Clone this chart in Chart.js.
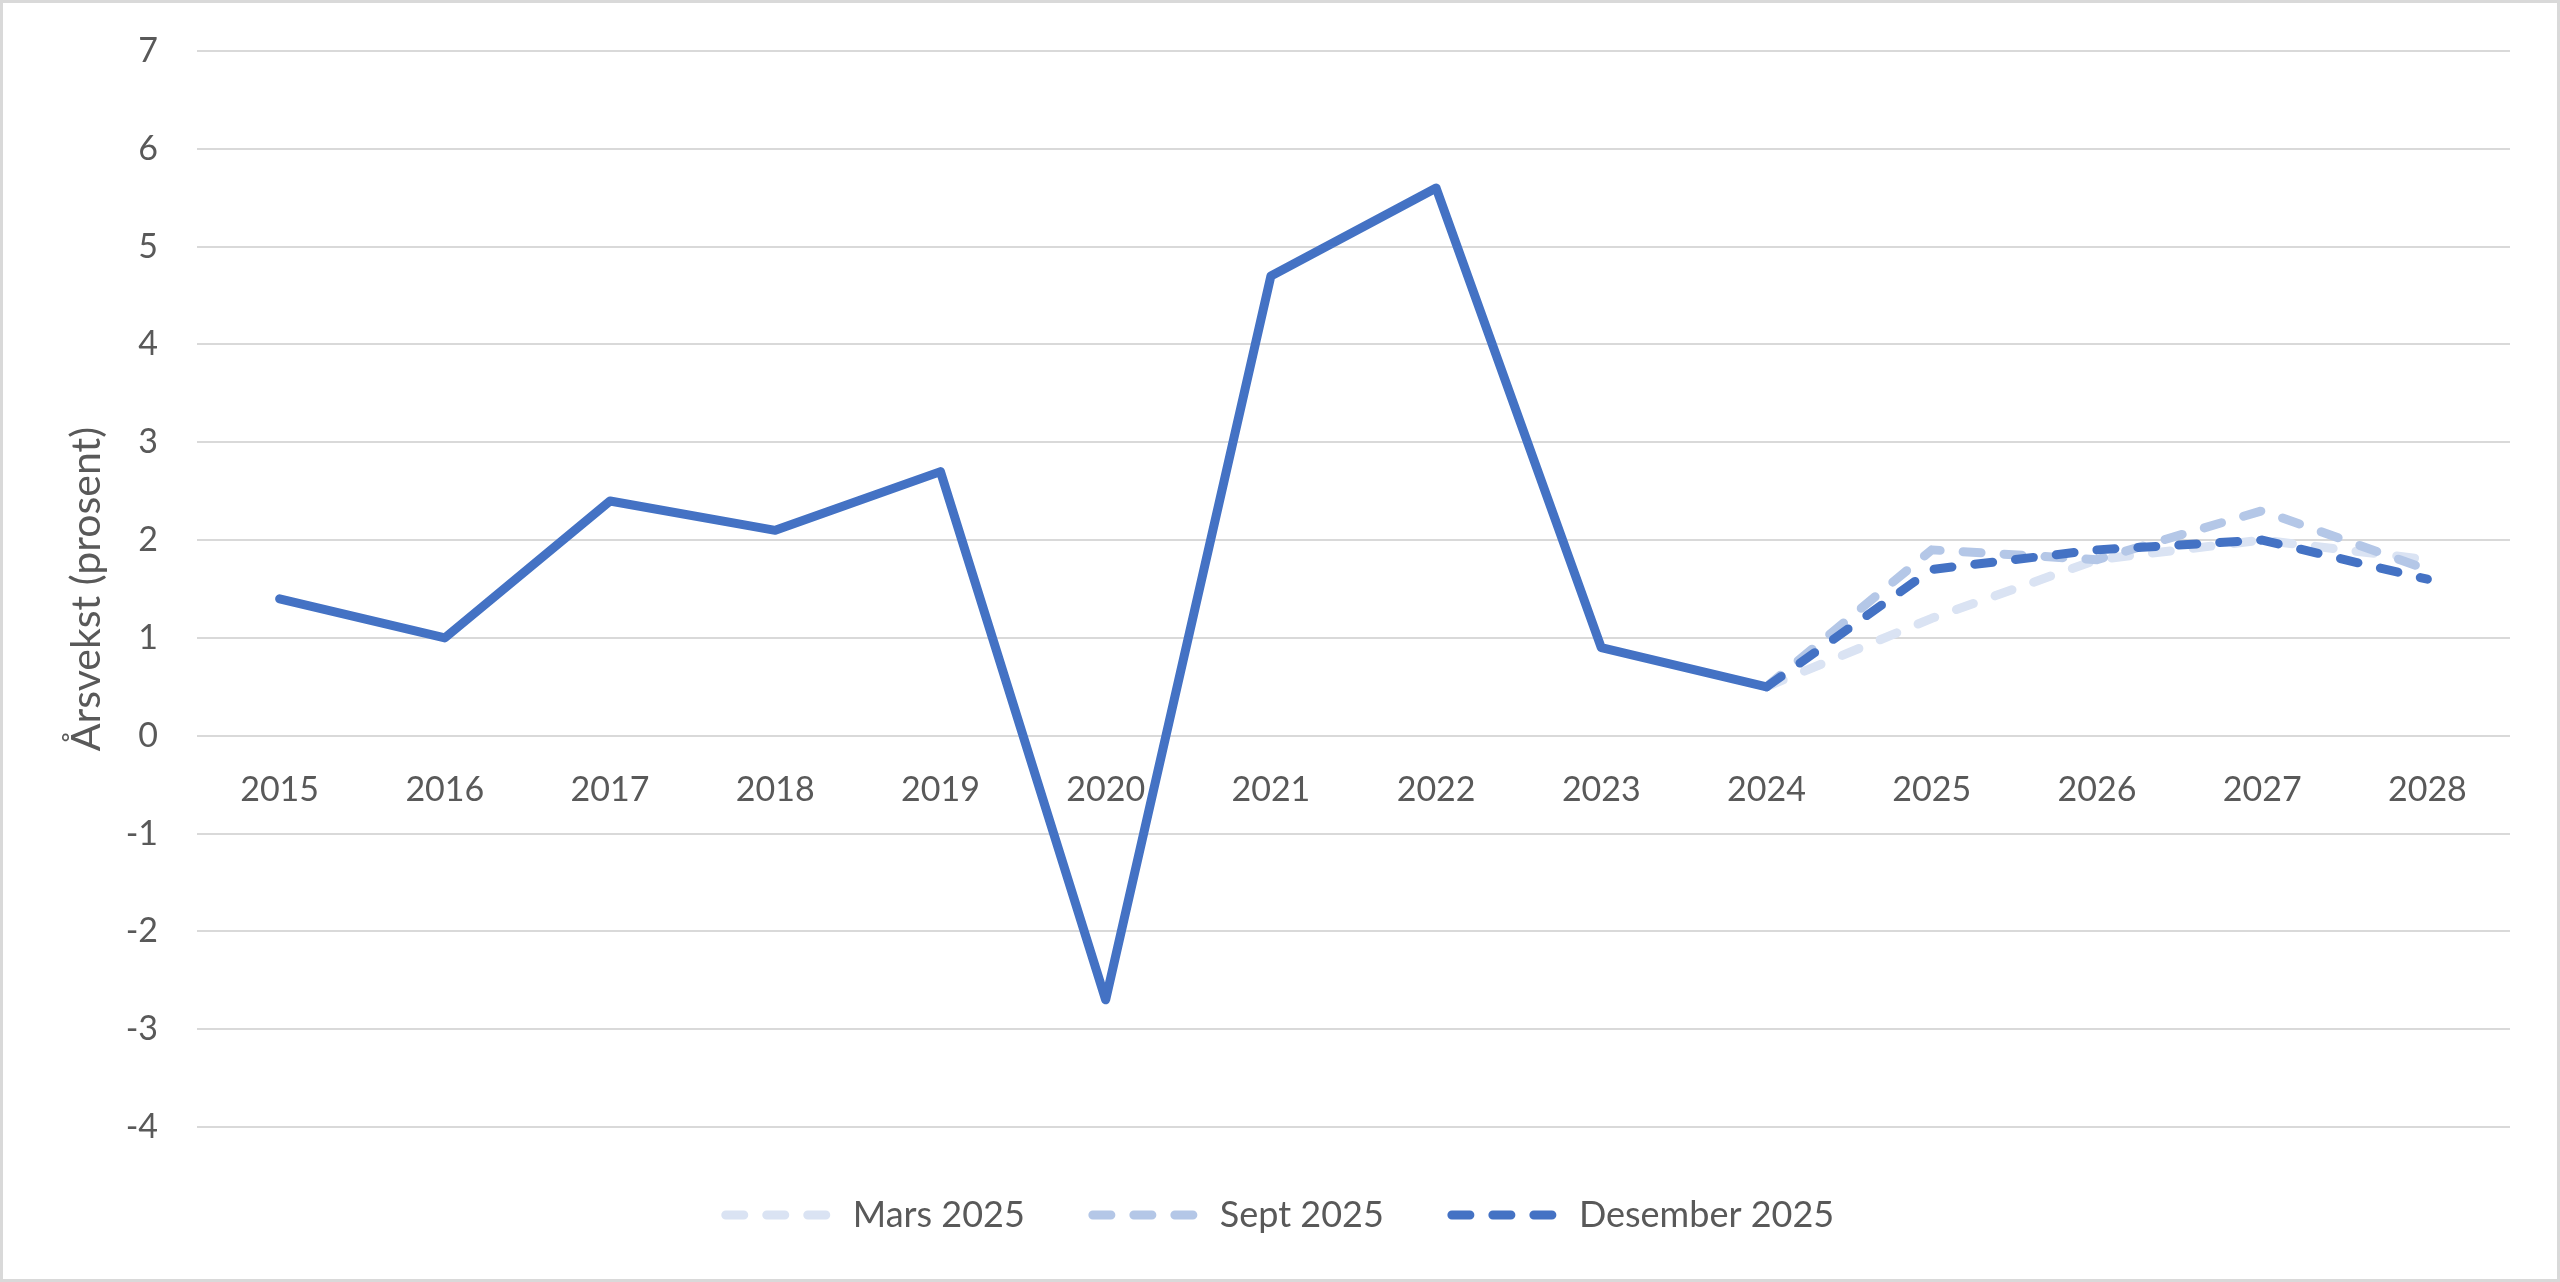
<!DOCTYPE html>
<html>
<head>
<meta charset="utf-8">
<script src="https://cdn.jsdelivr.net/npm/chart.js@4"></script>
<style>
	html, body { margin: 0; padding: 0; background: #ffffff; }
	#wrap { width: 2560px; height: 1282px; }
</style>
</head>
<body>
<div id="wrap"><canvas id="growthChart" width="2560" height="1282"></canvas></div>
<script>
// data block
const years = ['2015', '2016', '2017', '2018', '2019', '2020', '2021', '2022', '2023', '2024', '2025', '2026', '2027', '2028'];
const historic = [1.4, 1.0, 2.4, 2.1, 2.7, -2.7, 4.7, 5.6, 0.9, 0.5, null, null, null, null];
const mars2025 = [null, null, null, null, null, null, null, null, null, 0.5, 1.2, 1.8, 2.0, 1.8];
const sept2025 = [null, null, null, null, null, null, null, null, null, 0.5, 1.9, 1.8, 2.3, 1.7];
const des2025 = [null, null, null, null, null, null, null, null, null, 0.5, 1.7, 1.9, 2.0, 1.6];
const yTicks = [7, 6, 5, 4, 3, 2, 1, 0, -1, -2, -3, -4];

const textColor = '#595959';

Chart.defaults.font.family = 'Lato, "Noto Sans", sans-serif';
Chart.defaults.color = textColor;

// setup block
const dashed = (label, values, color, order) => ({
	label: label,
	data: values,
	borderColor: color,
	backgroundColor: color,
	borderWidth: 9,
	borderDash: [18, 23],
	borderCapStyle: 'round',
	borderJoinStyle: 'round',
	pointRadius: 0,
	tension: 0,
	order: order,
});

const data = {
	labels: years,
	datasets: [
		{
			label: 'Historisk',
			data: historic,
			borderColor: '#4472C4',
			backgroundColor: '#4472C4',
			borderWidth: 9,
			borderCapStyle: 'round',
			borderJoinStyle: 'round',
			pointRadius: 0,
			tension: 0,
			order: 0,
		},
		dashed('Mars 2025', mars2025, '#DAE3F3', 3),
		dashed('Sept 2025', sept2025, '#B4C7E7', 2),
		dashed('Desember 2025', des2025, '#4472C4', 1),
	],
};

// thin grey frame round the whole picture
const frame = {
	id: 'frame',
	afterDraw(chart) {
		const ctx = chart.ctx;
		ctx.save();
		ctx.strokeStyle = '#D9D9D9';
		ctx.lineWidth = 3;
		ctx.strokeRect(1.5, 1.5, chart.width - 3, chart.height - 3);
		ctx.restore();
	},
};

// legend shows only the forecasts, in dataset order, with their dashes
const legendLabels = (chart) => {
	const items = Chart.defaults.plugins.legend.labels.generateLabels(chart);
	return items
		.filter((item) => item.text !== 'Historisk')
		.map((item) => {
			const ds = chart.data.datasets[item.datasetIndex];
			item.lineDash = ds.borderDash;
			item.lineWidth = ds.borderWidth;
			item.lineCap = 'round';
			item.strokeStyle = ds.borderColor;
			item.fillStyle = ds.borderColor;
			return item;
		})
		.sort((a, b) => a.datasetIndex - b.datasetIndex);
};

// config block
const config = {
	type: 'line',
	data: data,
	options: {
		responsive: false,
		animation: false,
		layout: {
			padding: { top: 51, right: 50, bottom: 39, left: 50 },
		},
		scales: {
			x: {
				position: { y: 0 },
				offset: true,
				grid: { display: false, drawTicks: false },
				border: { display: false },
				ticks: {
					padding: 34,
					maxRotation: 0,
					autoSkip: false,
					color: textColor,
					font: { size: 34 },
				},
			},
			y: {
				min: -4,
				max: 7,
				afterBuildTicks: (scale) => {
					scale.ticks = yTicks.map((v) => ({ value: v }));
				},
				afterFit: (scale) => {
					scale.width = 147;
					scale.paddingTop = 0;
					scale.paddingBottom = 0;
				},
				grid: { color: '#D9D9D9', lineWidth: 2, drawTicks: false },
				border: { display: false },
				ticks: {
					padding: 39,
					color: textColor,
					font: { size: 34 },
				},
				title: {
					display: true,
					text: 'Årsvekst (prosent)',
					color: textColor,
					font: { size: 41 },
					padding: { top: 12, bottom: 0 },
				},
			},
		},
		plugins: {
			legend: {
				position: 'bottom',
				title: {
					display: true,
					text: ' ',
					font: { size: 2, lineHeight: 1 },
					padding: 0,
				},
				labels: {
					usePointStyle: true,
					pointStyle: 'line',
					pointStyleWidth: 109,
					padding: 68,
					color: textColor,
					font: { size: 36 },
					generateLabels: legendLabels,
				},
			},
			tooltip: { enabled: false },
		},
	},
	plugins: [frame],
};

// render / init block
const growthChart = new Chart(document.getElementById('growthChart'), config);
</script>
</body>
</html>
